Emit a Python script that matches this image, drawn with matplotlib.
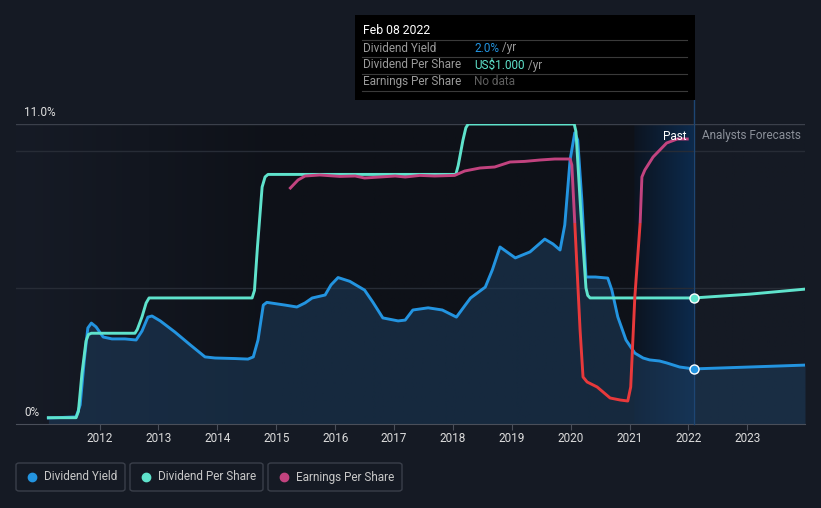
import numpy as np
import matplotlib.pyplot as plt
from matplotlib.patches import Rectangle, FancyBboxPatch
from matplotlib.lines import Line2D

plt.rcParams['font.family'] = ['Roboto', 'DejaVu Sans']

# Dividend yield (%)
yield_years = [2011.13, 2011.60, 2011.67, 2011.74, 2011.80, 2011.86, 2011.94, 2012.06, 2012.21,
               2012.43, 2012.62, 2012.72, 2012.82, 2012.89, 2013.03, 2013.28, 2013.54, 2013.79,
               2013.96, 2014.30, 2014.52, 2014.61, 2014.69, 2014.78, 2014.84, 2015.15, 2015.35,
               2015.49, 2015.61, 2015.83, 2015.93, 2016.05, 2016.25, 2016.50, 2016.64, 2016.81,
               2017.07, 2017.19, 2017.32, 2017.58, 2017.82, 2018.06, 2018.21, 2018.30, 2018.55,
               2018.67, 2018.80, 2019.06, 2019.31, 2019.56, 2019.70, 2019.82, 2019.90, 2019.99,
               2020.07, 2020.12, 2020.19, 2020.26, 2020.42, 2020.63, 2020.70, 2020.80, 2020.94,
               2021.09, 2021.23, 2021.34, 2021.51, 2021.63, 2021.85, 2022.09]
yield_vals = [0.22, 0.26, 0.70, 2.35, 3.52, 3.70, 3.56, 3.19, 3.12,
              3.12, 3.08, 3.41, 3.92, 3.96, 3.78, 3.37, 2.90, 2.46,
              2.42, 2.40, 2.38, 2.46, 3.08, 4.36, 4.46, 4.36, 4.29,
              4.44, 4.62, 4.73, 5.10, 5.37, 5.23, 4.91, 4.47, 3.89,
              3.78, 3.81, 4.18, 4.26, 4.18, 3.92, 4.36, 4.62, 5.02,
              5.65, 6.49, 6.09, 6.31, 6.78, 6.60, 6.38, 7.30, 9.68,
              10.68, 10.41, 8.21, 5.39, 5.39, 5.35, 4.91, 3.93, 3.08,
              2.60, 2.42, 2.35, 2.31, 2.24, 2.09, 2.02]
yield_fc_years = [2022.09, 2023.04, 2023.98]
yield_fc_vals = [2.02, 2.09, 2.16]

# Dividend per share (US$)
dps_years = [2011.13, 2011.60, 2011.64, 2011.70, 2011.77, 2011.81, 2011.86, 2012.60, 2012.64,
             2012.72, 2012.79, 2012.84, 2014.59, 2014.63, 2014.68, 2014.76, 2014.81, 2014.86,
             2018.05, 2018.09, 2018.17, 2018.22, 2018.26, 2020.06, 2020.09, 2020.17, 2020.26,
             2020.29, 2020.33, 2022.09]
dps_vals = [0.05, 0.05, 0.10, 0.40, 0.66, 0.71, 0.72, 0.72, 0.75,
            0.85, 0.96, 1.00, 1.00, 1.06, 1.40, 1.88, 1.96, 1.98,
            1.98, 2.05, 2.25, 2.35, 2.38, 2.38, 2.32, 1.70, 1.08,
            1.02, 1.00, 1.00]
dps_fc_years = [2022.09, 2023.04, 2023.98]
dps_fc_vals = [1.00, 1.03, 1.07]

# Earnings per share (US$)
eps_years = [2015.24, 2015.37, 2015.49, 2015.74, 2016.08, 2016.34, 2016.50, 2016.76, 2017.02,
             2017.19, 2017.44, 2017.69, 2018.03, 2018.20, 2018.46, 2018.71, 2018.97, 2019.22,
             2019.48, 2019.73, 2019.99, 2020.02, 2020.07, 2020.16, 2020.21, 2020.28, 2020.45,
             2020.55, 2020.67, 2020.84, 2020.97, 2021.02, 2021.09, 2021.18, 2021.21, 2021.26,
             2021.40, 2021.63, 2021.81, 2021.98]
eps_vals = [1.75, 2.15, 2.35, 2.40, 2.33, 2.35, 2.25, 2.30, 2.35,
            2.30, 2.38, 2.35, 2.38, 2.60, 2.75, 2.80, 3.05, 3.08,
            3.15, 3.20, 3.20, 2.90, 0.00, -5.35, -7.70, -7.95, -8.20,
            -8.45, -8.75, -8.85, -8.90, -8.20, -3.70, 0.00, 2.30, 2.65,
            3.30, 4.00, 4.20, 4.20]

year_ticks = list(range(2012, 2024))
grid_levels = [5, 10, 11]

BG = '#151a24'
BLUE = '#2394e0'
TEAL = '#5fe3cc'
PINK = '#c2437f'
RED = '#e8393b'
XMIN, XMAX = 2010.58, 2023.98
PAST_START, NOW = 2021.08, 2022.09

W, H = 821, 508
fig = plt.figure(figsize=(W / 100, H / 100), dpi=100, facecolor=BG)
ax = fig.add_axes([16 / W, (H - 424) / H, (805 - 16) / W, 300 / H])
ax.set_facecolor(BG)
ax.set_xlim(XMIN, XMAX)
ax.set_ylim(0, 11)

# background bands
xs = np.linspace(XMIN, XMAX, 800)
img = np.zeros((1, len(xs), 3))
c_left = np.array([22, 27, 38]) / 255
c_dark = np.array([14, 17, 24]) / 255
c_p0 = np.array([13, 20, 32]) / 255
c_p1 = np.array([12, 42, 76]) / 255
c_fc = np.array([21, 26, 36]) / 255
for i, x in enumerate(xs):
    if x < PAST_START:
        t = min(1, (x - XMIN) / 4.5)
        img[0, i] = c_left * (1 - t) + c_dark * t
    elif x < NOW:
        t = (x - PAST_START) / (NOW - PAST_START)
        img[0, i] = c_p0 * (1 - t) + c_p1 * t
    else:
        img[0, i] = c_fc
ax.imshow(img, extent=[XMIN, XMAX, 0, 11], aspect='auto', zorder=0, interpolation='bilinear')

for g in grid_levels:
    ax.axhline(g, color='#3b404b' if g == 11 else '#272c36', lw=1, zorder=1)

ax.fill_between(yield_years + yield_fc_years[1:], 0, yield_vals + yield_fc_vals[1:],
                color='#1d3d5e', alpha=0.55, lw=0, zorder=2)
ax.plot(yield_years, yield_vals, color=BLUE, lw=2.1, zorder=4, solid_joinstyle='round')
ax.plot(yield_fc_years, yield_fc_vals, color=BLUE, lw=2.1, zorder=4)
ax.plot([NOW], [yield_vals[-1]], 'o', ms=6.5, mfc=BLUE, mec='white', mew=1, zorder=6, clip_on=False)

ax.axvline(NOW, ymin=0, ymax=(424 - 100) / 300, color='#1d4674', lw=1, zorder=3, clip_on=False)

ax.set_xticks(year_ticks)
ax.set_xticklabels([str(y) for y in year_ticks])
ax.tick_params(axis='x', colors='#4a4f5a', labelcolor='#dcdcdc', labelsize=8.5, length=4, pad=2)
ax.set_yticks([])
for s in ['top', 'left', 'right']:
    ax.spines[s].set_visible(False)
ax.spines['bottom'].set_color('#4a4f5a')

ax_dps = ax.twinx()
ax_dps.set_ylim(0, 2.38)
ax_dps.plot(dps_years, dps_vals, color=TEAL, lw=2.1, zorder=4, solid_joinstyle='round')
ax_dps.plot(dps_fc_years, dps_fc_vals, color=TEAL, lw=2.1, zorder=4)
ax_dps.plot([NOW], [dps_vals[-1]], 'o', ms=6.5, mfc=TEAL, mec='white', mew=1, zorder=6, clip_on=False)

ax_eps = ax.twinx()
ax_eps.set_ylim(-10.05, 4.95)
pos = ax_eps.plot(eps_years, eps_vals, color=PINK, lw=2.1, solid_joinstyle='round')[0]
neg = ax_eps.plot(eps_years, eps_vals, color=RED, lw=2.1, solid_joinstyle='round')[0]
pos.set_clip_path(Rectangle((XMIN, 0), XMAX - XMIN, 20, transform=ax_eps.transData))
neg.set_clip_path(Rectangle((XMIN, -20), XMAX - XMIN, 20, transform=ax_eps.transData))

for a in (ax_dps, ax_eps):
    a.set_yticks([])
    for s in a.spines.values():
        s.set_visible(False)

def fx(px):
    return px / W

def fy(py):
    return 1 - py / H

fig.text(fx(24), fy(112), '11.0%', color='#e0e0e0', fontsize=8.5, va='center')
fig.text(fx(24), fy(412), '0%', color='#e0e0e0', fontsize=8.5, va='center')
fig.text(fx(686), fy(136), 'Past', color='white', fontsize=8.5, va='center', ha='right')
fig.text(fx(702), fy(136), 'Analysts Forecasts', color='#8b9099', fontsize=8.5, va='center')

# tooltip
fig.patches.append(Rectangle((fx(355), fy(100)), fx(695) - fx(355), fy(15) - fy(100),
                             transform=fig.transFigure, facecolor='black', edgecolor='none'))
fig.text(fx(363), fy(31), 'Feb 08 2022', color='white', fontsize=8.8, va='center')
for ly in [40, 57, 74, 91]:
    fig.add_artist(Line2D([fx(362), fx(687)], [fy(ly), fy(ly)], color='#3a3a3a', lw=0.8))
rows = [('Dividend Yield', '2.0%', BLUE, ' /yr'),
        ('Dividend Per Share', 'US$1.000', TEAL, ' /yr'),
        ('Earnings Per Share', 'No data', '#5f5f5f', '')]
for i, (lab, val, col, unit) in enumerate(rows):
    yy = fy(48 + 17 * i)
    fig.text(fx(363), yy, lab, color='#9a9a9a', fontsize=8.5, va='center')
    t = fig.text(fx(474), yy, val, color=col, fontsize=8.5, va='center')
    if unit:
        fig.canvas.draw()
        bb = t.get_window_extent()
        fig.text(bb.x1 / W, yy, unit, color='#9a9a9a', fontsize=8.5, va='center')

# legend
legend_items = [('Dividend Yield', BLUE, 16, 125), ('Dividend Per Share', TEAL, 130, 263),
                ('Earnings Per Share', PINK, 268, 402)]
for lab, col, x0, x1 in legend_items:
    fig.patches.append(FancyBboxPatch((fx(x0), fy(491)), fx(x1) - fx(x0), fy(463) - fy(491),
                                      boxstyle='round,pad=0,rounding_size=0.004',
                                      transform=fig.transFigure, facecolor='none',
                                      edgecolor='#3a3f4a', lw=1))
    fig.add_artist(Line2D([fx(x0 + 16)], [fy(477)], marker='o', ms=6, color=col, lw=0))
    fig.text(fx(x0 + 28), fy(477), lab, color='#c8c8c8', fontsize=8.5, va='center')

fig.savefig('out.png', dpi=100, facecolor=BG)
